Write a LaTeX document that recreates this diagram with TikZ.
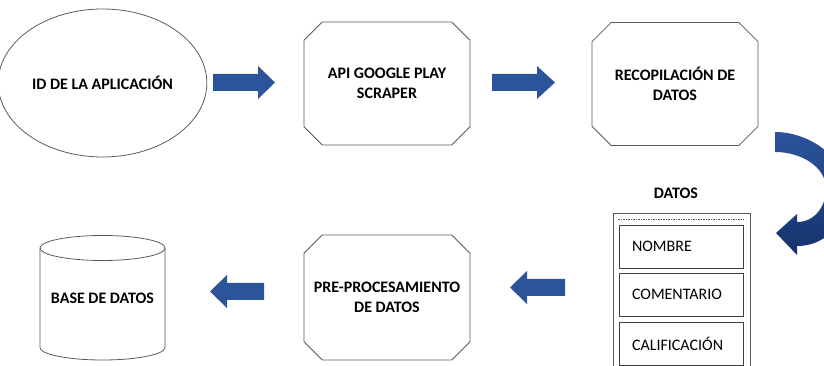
\documentclass[tikz,border=0pt]{standalone}
\usepackage{fontspec}
\setmainfont{Carlito}
\usetikzlibrary{shapes.geometric,shapes.misc}

\definecolor{linegray}{RGB}{90,90,90}
\definecolor{arrowblue}{RGB}{44,84,155}
\definecolor{arrowdark}{RGB}{22,50,108}

\tikzset{
  title/.style={font=\fontsize{16}{19.5}\selectfont\bfseries, align=center},
  procbox/.style={title, chamfered rectangle, chamfered rectangle xsep=16pt, draw=linegray, line width=0.8pt, minimum width=166pt, minimum height=123pt, inner sep=0pt},
  fieldbox/.style={draw=linegray!70!black, line width=0.8pt, minimum height=43pt, text width=98pt, inner xsep=13pt, align=left, font=\fontsize{16}{19.5}\selectfont},
  blockarrow/.style={fill=arrowblue}
}

% flecha de bloque: cola, base de la punta, altura, punta
\newcommand{\flecha}[4]{\fill[blockarrow] (#1,#3+8.5) -- (#2,#3+8.5) -- (#2,#3+16.5) -- (#4,#3) -- (#2,#3-16.5) -- (#2,#3-8.5) -- (#1,#3-8.5) -- cycle;}

\begin{document}
\begin{tikzpicture}[x=1pt,y=1pt]
\useasboundingbox (0,0) rectangle (824,366);

% fila de arriba
\node[title, draw=linegray, line width=0.8pt, ellipse, minimum width=191pt, minimum height=148pt] (idapp) at (102.5,283) {ID DE LA APLICACIÓN};
\node[procbox] (api) at (387,282.5) {API GOOGLE PLAY\\SCRAPER};
\node[procbox] (recop) at (675,282) {RECOPILACIÓN DE\\DATOS};
\flecha{213}{258}{283.5}{275}
\flecha{492}{537}{283.5}{555}

% flecha curva
\shade[top color=arrowblue, bottom color=arrowdark] (775,234) .. controls (808,234) and (845,210) .. (845,177) .. controls (845,140) and (825,120) .. (797,120) -- (797,111) -- (776,133) -- (797,152) -- (797,144) .. controls (815,144) and (826,160) .. (826,177) .. controls (826,200) and (800,214) .. (775,214) -- cycle;

% datos
\node[title] (datos) at (676,173) {DATOS};
\draw[linegray, line width=0.8pt] (613,-5) -- (613,153) -- (750,153) -- (750,-5);
\draw[linegray, dash pattern=on 1.5pt off 1pt] (618,147) -- (744,147);
\node[fieldbox] (nombre) at (681,119.5) {NOMBRE};
\node[fieldbox] (comentario) at (681,71.5) {COMENTARIO};
\node[fieldbox] (calif) at (681,22.5) {CALIFICACIÓN};

% fila de abajo
\node[procbox, minimum height=125pt, inner xsep=-12pt] (preproc) at (387,68.5) {PRE-PROCESAMIENTO\\DE DATOS};
\flecha{565}{527}{78.5}{510}
\flecha{264}{227}{74.5}{210}

% base de datos
\draw[linegray, line width=0.8pt] (40,118) -- (40,18.5) arc[start angle=180, end angle=360, x radius=62.5, y radius=12.5] -- (165,118);
\draw[linegray, line width=0.8pt] (102.5,118) ellipse [x radius=62.5, y radius=12.5];
\node[title] (basedatos) at (102.5,68) {BASE DE DATOS};
\end{tikzpicture}
\end{document}
